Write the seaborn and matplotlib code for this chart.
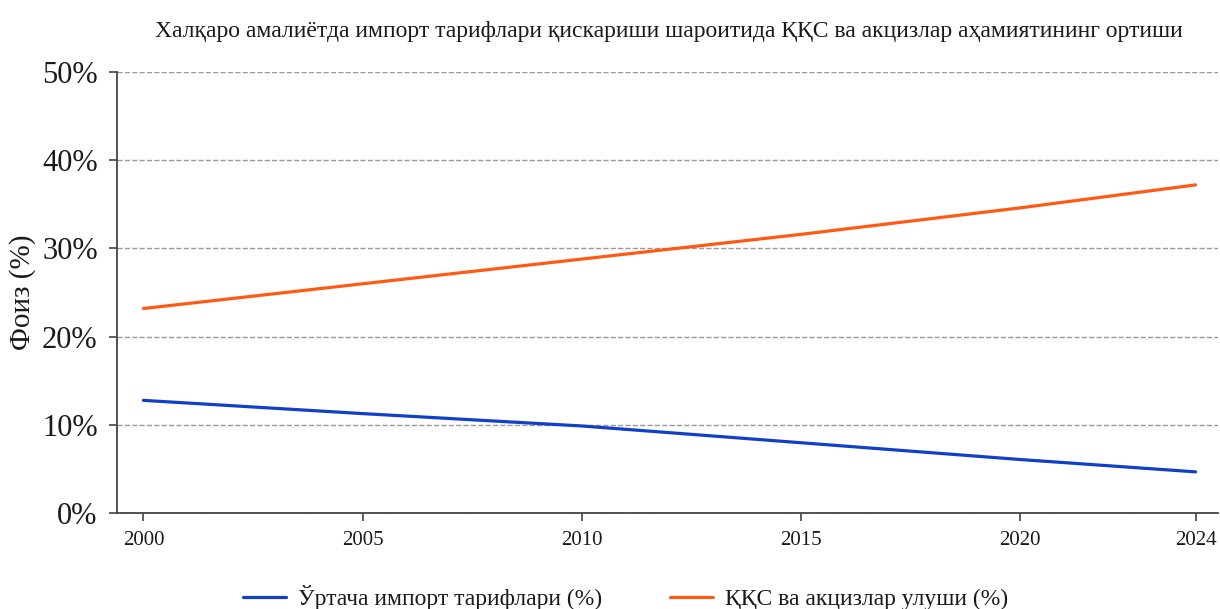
import pandas as pd
import seaborn as sns
import matplotlib.pyplot as plt
from matplotlib.ticker import FuncFormatter

# data
years = [2000, 2005, 2010, 2015, 2020, 2024]
tariffs = [12.8, 11.3, 9.9, 8.0, 6.1, 4.7]
vat_excise = [23.2, 26.0, 28.8, 31.6, 34.6, 37.2]

label_tariffs = 'Ўртача импорт тарифлари (%)'
label_vat = 'ҚҚС ва акцизлар улуши (%)'
title = ('Халқаро амалиётда импорт тарифлари қискариши шароитида '
         'ҚҚС ва акцизлар аҳамиятининг ортиши')

df = pd.DataFrame({'year': years, label_tariffs: tariffs, label_vat: vat_excise})
long_df = df.melt(id_vars='year', var_name='series', value_name='value')

sns.set_style('white')
plt.rcParams['font.family'] = ['Liberation Serif', 'DejaVu Serif']
plt.rcParams['text.color'] = '#1a1a1a'
plt.rcParams['xtick.labelcolor'] = '#1a1a1a'
plt.rcParams['ytick.labelcolor'] = '#1a1a1a'
plt.rcParams['axes.labelcolor'] = '#1a1a1a'

fig, ax = plt.subplots(figsize=(12.2, 6.09), dpi=100)
sns.lineplot(data=long_df, x='year', y='value', hue='series',
             palette=['#1040C8', '#FF5A14'], linewidth=2.3, ax=ax)

ax.set_xlim(1999.4, 2024.5)
ax.set_ylim(0, 50)
ax.set_xticks([2000, 2005, 2010, 2015, 2020, 2024])
ax.set_yticks([0, 10, 20, 30, 40, 50])
ax.yaxis.set_major_formatter(FuncFormatter(lambda v, p: f'{v:.0f}%'))
ax.tick_params(axis='both', bottom=True, left=True, direction='out',
               length=6, width=1.2, color='#444444')
ax.tick_params(axis='y', labelsize=22, pad=8)
ax.tick_params(axis='x', labelsize=15, pad=7)
ax.yaxis.grid(True, linestyle='--', color='#999999', linewidth=1)
ax.set_axisbelow(True)

sns.despine(ax=ax, top=True, right=True)
for side in ['left', 'bottom']:
    ax.spines[side].set_color('#444444')
    ax.spines[side].set_linewidth(1.3)

ax.set_xlabel('')
ax.set_ylabel('Фоиз (%)', fontsize=21, labelpad=4)
fig.suptitle(title, fontsize=17, x=0.548, y=0.965)

ax.legend(loc='upper center', bbox_to_anchor=(0.462, -0.115), ncol=2,
          frameon=False, fontsize=17, columnspacing=2.9, handlelength=1.8,
          handletextpad=0.5)

plt.subplots_adjust(left=0.096, right=0.998, top=0.882, bottom=0.157)
plt.savefig('out.png')
